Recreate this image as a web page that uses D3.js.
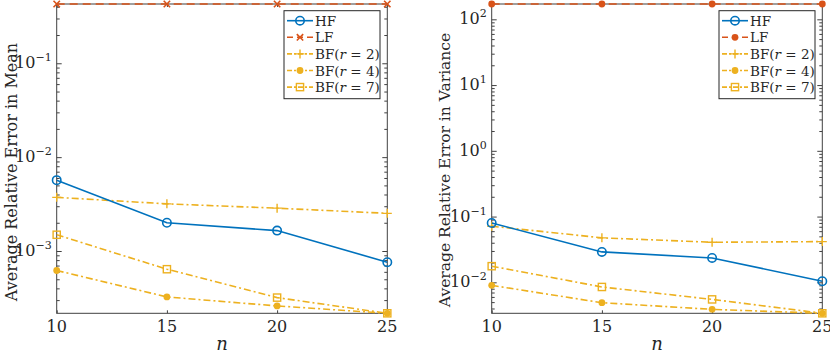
<!DOCTYPE html>
<html lang="en">
<head>
<meta charset="utf-8">
<title>Average Relative Error</title>
<script src="https://cdn.jsdelivr.net/npm/d3@7"></script>
<style>
  html, body { margin: 0; padding: 0; background: white; }
  text { font-family: "DejaVu Serif", serif; fill: #262626; }
</style>
</head>
<body>
<script>
// data
var nValues = [10, 15, 20, 25];

var meanHF  = [5.69e-3, 2.0e-3, 1.65e-3, 7.6e-4];
var meanLF  = [0.428, 0.428, 0.428, 0.428];
var meanBF2 = [3.73e-3, 3.18e-3, 2.86e-3, 2.52e-3];
var meanBF4 = [6.2e-4, 3.24e-4, 2.6e-4, 2.17e-4];
var meanBF7 = [1.49e-3, 6.4e-4, 3.19e-4, 2.17e-4];

var varHF  = [0.080, 0.029, 0.0235, 0.0104];
var varLF  = [171, 171, 171, 171];
var varBF2 = [0.0714, 0.0475, 0.0407, 0.0416];
var varBF4 = [0.0090, 0.0049, 0.00388, 0.00338];
var varBF7 = [0.0176, 0.0085, 0.0055, 0.00338];

var meanTicks = [1e-3, 1e-2, 1e-1];
var varTicks = [1e-2, 1e-1, 1e0, 1e1, 1e2];

var legendNames = ["HF", "LF", "BF(r = 2)", "BF(r = 4)", "BF(r = 7)"];

var w = 830, h = 353;
var plotTop = 4, plotBottom = 313.3;

var svg = d3.select("body").append("svg")
  .attr("width", w)
  .attr("height", h);

var colors = ["#0072BD", "#D95319", "#EDB120", "#EDB120", "#EDB120"];
var dashes = [null, "8,5", "7,3,2,3", "7,3,2,3", "7,3,2,3"];

function drawMarker(g, type, x, y, color) {
  if (type == "o") {
    g.append("circle").attr("cx", x).attr("cy", y).attr("r", 4.2)
      .attr("fill", "none").attr("stroke", color).attr("stroke-width", 1.6);
  } else if (type == "x") {
    var s = 3.2;
    g.append("path").attr("d", "M" + (x - s) + "," + (y - s) + "L" + (x + s) + "," + (y + s) +
        "M" + (x - s) + "," + (y + s) + "L" + (x + s) + "," + (y - s))
      .attr("stroke", color).attr("stroke-width", 1.6);
  } else if (type == "+") {
    var p = 4.5;
    g.append("path").attr("d", "M" + (x - p) + "," + y + "L" + (x + p) + "," + y +
        "M" + x + "," + (y - p) + "L" + x + "," + (y + p))
      .attr("stroke", color).attr("stroke-width", 1.4);
  } else if (type == ".") {
    g.append("circle").attr("cx", x).attr("cy", y).attr("r", 3.4)
      .attr("fill", color);
  } else if (type == "s") {
    g.append("rect").attr("x", x - 3.6).attr("y", y - 3.6).attr("width", 7.2).attr("height", 7.2)
      .attr("fill", "none").attr("stroke", color).attr("stroke-width", 1.4);
  }
}

function drawPanel(opts) {
  var x0 = opts.x0, x1 = opts.x1;
  var g = svg.append("g");

  var allVals = d3.merge(opts.series);
  var xScale = d3.scaleLinear().domain(d3.extent(nValues)).range([x0, x1]);
  var yScale = d3.scaleLog().domain(d3.extent(allVals)).range([plotBottom, plotTop]);

  // minor ticks on log axis
  var dom = yScale.domain();
  var minors = [];
  var e0 = Math.floor(Math.log10(dom[0])), e1 = Math.ceil(Math.log10(dom[1]));
  for (var e = e0; e <= e1; e++) {
    for (var k = 2; k <= 9; k++) {
      var v = k * Math.pow(10, e);
      if (v >= dom[0] && v <= dom[1]) minors.push(v);
    }
  }

  var axisColor = "#404040";

  function styleAxis(sel) {
    sel.select(".domain").remove();
    sel.selectAll("line").attr("stroke", axisColor).attr("stroke-width", 1);
  }

  // y ticks left and right
  g.append("g").attr("transform", "translate(" + x0 + ",0)")
    .call(d3.axisLeft(yScale).tickValues(opts.yTicks).tickSize(-5).tickFormat(""))
    .call(styleAxis);
  g.append("g").attr("transform", "translate(" + x0 + ",0)")
    .call(d3.axisLeft(yScale).tickValues(minors).tickSize(-3).tickFormat(""))
    .call(styleAxis);
  g.append("g").attr("transform", "translate(" + x1 + ",0)")
    .call(d3.axisRight(yScale).tickValues(opts.yTicks).tickSize(-5).tickFormat(""))
    .call(styleAxis);
  g.append("g").attr("transform", "translate(" + x1 + ",0)")
    .call(d3.axisRight(yScale).tickValues(minors).tickSize(-3).tickFormat(""))
    .call(styleAxis);
  // x ticks
  g.append("g").attr("transform", "translate(0," + plotBottom + ")")
    .call(d3.axisBottom(xScale).tickValues(nValues).tickSize(-3).tickFormat(""))
    .call(styleAxis);
  g.append("g").attr("transform", "translate(0," + plotTop + ")")
    .call(d3.axisTop(xScale).tickValues(nValues).tickSize(-3).tickFormat(""))
    .call(styleAxis);

  // box
  g.append("rect")
    .attr("x", x0).attr("y", plotTop)
    .attr("width", x1 - x0).attr("height", plotBottom - plotTop)
    .attr("fill", "none").attr("stroke", axisColor).attr("stroke-width", 1);

  // y tick labels 10^k
  opts.yTicks.forEach(function(t) {
    var ex = Math.round(Math.log10(t));
    var txt = g.append("text")
      .attr("x", x0 - 5)
      .attr("y", yScale(t) + 5)
      .attr("text-anchor", "end")
      .attr("font-size", 16);
    txt.append("tspan").text("10");
    txt.append("tspan").attr("dy", -7).attr("font-size", 11)
      .text(ex < 0 ? "\u2212" + (-ex) : String(ex));
  });

  // x tick labels
  nValues.forEach(function(n) {
    g.append("text")
      .attr("x", xScale(n))
      .attr("y", plotBottom + 19)
      .attr("text-anchor", "middle")
      .attr("font-size", 16)
      .text(n);
  });

  // axis labels
  g.append("text")
    .attr("x", (x0 + x1) / 2)
    .attr("y", 350)
    .attr("text-anchor", "middle")
    .attr("font-size", 18)
    .attr("font-style", "italic")
    .text("n");

  g.append("text")
    .attr("transform", "translate(" + opts.labelX + "," + opts.labelY + ") rotate(-90)")
    .attr("text-anchor", "middle")
    .attr("font-size", opts.labelSize)
    .text(opts.yLabel);

  // lines (yellow ones first, then HF, LF on top)
  var line = d3.line()
    .x(function(d, i) { return xScale(nValues[i]); })
    .y(function(d) { return yScale(d); });

  var order = [2, 3, 4, 0, 1];
  order.forEach(function(si) {
    var sg = g.append("g");
    sg.append("path")
      .datum(opts.series[si])
      .attr("d", line)
      .attr("fill", "none")
      .attr("stroke", colors[si])
      .attr("stroke-width", 1.6)
      .attr("stroke-dasharray", dashes[si]);
    opts.series[si].forEach(function(v, i) {
      drawMarker(sg, opts.markers[si], xScale(nValues[i]), yScale(v), colors[si]);
    });
  });

  // legend
  var lx = opts.legendX, ly = 10.7, lw = 96, lh = 88;
  var lg = g.append("g");
  lg.append("rect")
    .attr("x", lx).attr("y", ly)
    .attr("width", lw).attr("height", lh)
    .attr("fill", "white").attr("stroke", "#262626").attr("stroke-width", 1);
  legendNames.forEach(function(name, i) {
    var yy = ly + 10 + i * 16.6;
    lg.append("line")
      .attr("x1", lx + 3).attr("x2", lx + 29)
      .attr("y1", yy).attr("y2", yy)
      .attr("stroke", colors[i]).attr("stroke-width", 1.6)
      .attr("stroke-dasharray", i == 0 ? null : (i == 1 ? "6,4" : "5,2,2,2"));
    drawMarker(lg, opts.markers[i], lx + 16, yy, colors[i]);
    var t = lg.append("text")
      .attr("x", lx + 31)
      .attr("y", yy + 5)
      .attr("font-size", 13.5);
    if (i < 2) {
      t.text(name);
    } else {
      t.append("tspan").text("BF(");
      t.append("tspan").attr("font-style", "italic").text("r");
      t.append("tspan").text(" = " + name.charAt(name.length - 2) + ")");
    }
  });
}

drawPanel({
  x0: 56.7, x1: 387.3,
  series: [meanHF, meanLF, meanBF2, meanBF4, meanBF7],
  markers: ["o", "x", "+", ".", "s"],
  yTicks: meanTicks,
  yLabel: "Average Relative Error in Mean",
  labelX: 17, labelY: 172, labelSize: 16,
  legendX: 284
});

drawPanel({
  x0: 491.7, x1: 822.3,
  series: [varHF, varLF, varBF2, varBF4, varBF7],
  markers: ["o", ".", "+", ".", "s"],
  yTicks: varTicks,
  yLabel: "Average Relative Error in Variance",
  labelX: 450, labelY: 170, labelSize: 15.5,
  legendX: 719
});
</script>
</body>
</html>
